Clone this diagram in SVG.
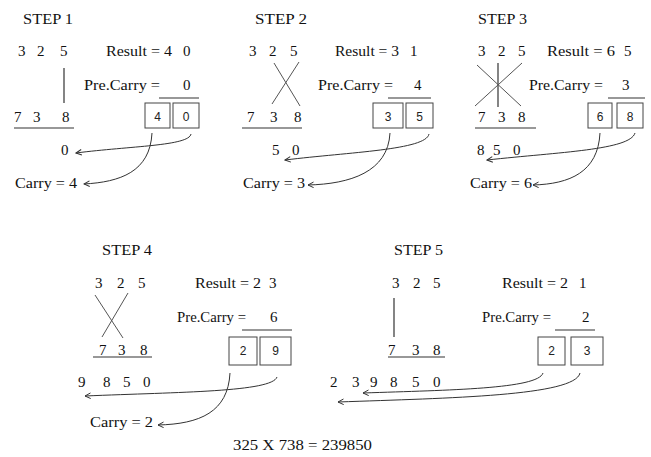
<svg xmlns="http://www.w3.org/2000/svg" width="651" height="457" viewBox="0 0 651 457">
<style>
.t{font-family:"Liberation Serif","Times New Roman",serif;font-size:15px;fill:#111}
.b{font-family:"Liberation Sans",Arial,sans-serif;font-size:12px;fill:#222;text-anchor:middle}
.box{fill:#fff;stroke:#444;stroke-width:1}
.ul{stroke:#333;stroke-width:1.2}
.cr{stroke:#555;stroke-width:1}
.arr{fill:none;stroke:#333;stroke-width:1;marker-end:url(#ah)}
</style>
<defs>
<marker id="ah" viewBox="0 0 10 10" refX="9" refY="5" markerWidth="7" markerHeight="7" orient="auto" markerUnits="userSpaceOnUse">
<path d="M1,1 L9,5 L1,9" fill="none" stroke="#333" stroke-width="1.4"/>
</marker>
</defs>
<rect width="651" height="457" fill="#fff"/>

<g id="step1">
<text class="t" x="23" y="24" textLength="50" lengthAdjust="spacingAndGlyphs">STEP 1</text>
<text class="t" x="18 28 37 49 60" y="56">3 2 5</text>
<text class="t" y="56"><tspan x="106" textLength="66" lengthAdjust="spacingAndGlyphs">Result = 4</tspan> <tspan x="183">0</tspan></text>
<line class="ul" x1="64" y1="68" x2="64" y2="103"/>
<text class="t" y="90"><tspan x="84" textLength="76" lengthAdjust="spacingAndGlyphs">Pre.Carry =</tspan> <tspan x="183">0</tspan></text>
<line class="ul" x1="159" y1="98" x2="199" y2="98"/>
<rect class="box" x="145" y="103" width="25" height="25"/>
<rect class="box" x="173" y="103" width="26" height="25"/>
<text class="b" x="157.5" y="121">4</text>
<text class="b" x="186" y="121">0</text>
<text class="t" x="14 24 33 48 62" y="122">7 3 8</text>
<line class="ul" x1="14" y1="128" x2="74" y2="128"/>
<text class="t" x="61" y="155">0</text>
<text class="t" x="15" y="188" textLength="62" lengthAdjust="spacingAndGlyphs">Carry = 4</text>
</g>

<g id="step2">
<text class="t" x="255" y="24" textLength="52" lengthAdjust="spacingAndGlyphs">STEP 2</text>
<text class="t" x="249 259 269 280 290" y="56">3 2 5</text>
<text class="t" y="56"><tspan x="335" textLength="64" lengthAdjust="spacingAndGlyphs">Result = 3</tspan> <tspan x="410">1</tspan></text>
<line class="cr" x1="274" y1="63" x2="300" y2="106"/>
<line class="cr" x1="299" y1="62" x2="272" y2="104"/>
<text class="t" y="90"><tspan x="318" textLength="75" lengthAdjust="spacingAndGlyphs">Pre.Carry =</tspan> <tspan x="414">4</tspan></text>
<line class="ul" x1="388" y1="98" x2="431" y2="98"/>
<rect class="box" x="373" y="103" width="30" height="25"/>
<rect class="box" x="406" y="103" width="27" height="25"/>
<text class="b" x="388" y="121">3</text>
<text class="b" x="419.5" y="121">5</text>
<text class="t" x="247 258 270 282 294" y="122">7 3 8</text>
<line class="ul" x1="242" y1="128" x2="302" y2="128"/>
<text class="t" x="272 282 292" y="155">5 0</text>
<text class="t" x="243" y="188" textLength="62" lengthAdjust="spacingAndGlyphs">Carry = 3</text>
</g>

<g id="step3">
<text class="t" x="478" y="24" textLength="49" lengthAdjust="spacingAndGlyphs">STEP 3</text>
<text class="t" x="478 488 498 508 518" y="56">3 2 5</text>
<text class="t" y="56"><tspan x="547" textLength="68" lengthAdjust="spacingAndGlyphs">Result = 6</tspan> <tspan x="624">5</tspan></text>
<line class="ul" x1="498" y1="63" x2="498" y2="107"/>
<line class="cr" x1="477" y1="65" x2="521" y2="106"/>
<line class="cr" x1="522" y1="63" x2="475" y2="106"/>
<text class="t" y="90"><tspan x="529" textLength="74" lengthAdjust="spacingAndGlyphs">Pre.Carry =</tspan> <tspan x="622">3</tspan></text>
<line class="ul" x1="608" y1="98" x2="645" y2="98"/>
<rect class="box" x="588" y="103" width="24" height="25"/>
<rect class="box" x="617" y="103" width="26" height="25"/>
<text class="b" x="600" y="121">6</text>
<text class="b" x="630" y="121">8</text>
<text class="t" x="478 488 498 508 518" y="122">7 3 8</text>
<line class="ul" x1="475" y1="128" x2="536" y2="128"/>
<text class="t" x="477 485 493 503 513" y="155">8 5 0</text>
<text class="t" x="470" y="188" textLength="62" lengthAdjust="spacingAndGlyphs">Carry = 6</text>
</g>

<g id="step4">
<text class="t" x="102" y="255" textLength="50" lengthAdjust="spacingAndGlyphs">STEP 4</text>
<text class="t" x="95 106 117 127 138" y="288">3 2 5</text>
<text class="t" y="288"><tspan x="195" textLength="66" lengthAdjust="spacingAndGlyphs">Result = 2</tspan> <tspan x="269">3</tspan></text>
<line class="cr" x1="95" y1="295" x2="123" y2="338"/>
<line class="cr" x1="128" y1="293" x2="102" y2="337"/>
<text class="t" y="322"><tspan x="177" textLength="69" lengthAdjust="spacingAndGlyphs">Pre.Carry =</tspan> <tspan x="270">6</tspan></text>
<line class="ul" x1="242" y1="330" x2="292" y2="330"/>
<rect class="box" x="229" y="337" width="28" height="28"/>
<rect class="box" x="260" y="337" width="31" height="28"/>
<text class="b" x="243" y="355">2</text>
<text class="b" x="275.5" y="355">9</text>
<text class="t" x="99 108 118 129 140" y="355">7 3 8</text>
<line class="ul" x1="93" y1="357" x2="152" y2="357"/>
<text class="t" x="78 90 103 113 123 133 143" y="387">9 8 5 0</text>
<text class="t" x="90" y="427" textLength="63" lengthAdjust="spacingAndGlyphs">Carry = 2</text>
</g>

<g id="step5">
<text class="t" x="394" y="255" textLength="49" lengthAdjust="spacingAndGlyphs">STEP 5</text>
<text class="t" x="392 402 413 423 433" y="288">3 2 5</text>
<text class="t" y="288"><tspan x="502" textLength="66" lengthAdjust="spacingAndGlyphs">Result = 2</tspan> <tspan x="579">1</tspan></text>
<line class="ul" x1="394" y1="298" x2="394" y2="337"/>
<text class="t" y="322"><tspan x="482" textLength="69" lengthAdjust="spacingAndGlyphs">Pre.Carry =</tspan> <tspan x="582">2</tspan></text>
<line class="ul" x1="555" y1="330" x2="595" y2="330"/>
<rect class="box" x="538" y="337" width="27" height="28"/>
<rect class="box" x="571" y="337" width="32" height="28"/>
<text class="b" x="551.5" y="355">2</text>
<text class="b" x="587" y="355">3</text>
<text class="t" x="388 400 412 422 433" y="355">7 3 8</text>
<line class="ul" x1="388" y1="357" x2="445" y2="357"/>
<text class="t" x="330 341 352 361 370 380 390 401 412 422 433" y="387">2 3 9 8 5 0</text>
</g>

<g id="connectors">
<path class="arr" d="M191,134 C189,146 130,146 76,153"/>
<path class="arr" d="M152,133 C150,172 120,182 84,184"/>
<path class="arr" d="M429,134 C426,150 350,152 285,160"/>
<path class="arr" d="M390,133 C388,172 350,184 308,185"/>
<path class="arr" d="M635,133 C630,150 560,152 487,160"/>
<path class="arr" d="M600,133 C598,172 570,184 533,185"/>
<path class="arr" d="M277,377 C272,392 180,392 85,396"/>
<path class="arr" d="M230,373 C228,412 200,424 158,425"/>
<path class="arr" d="M543,373 C538,389 450,390 363,393"/>
<path class="arr" d="M580,373 C575,396 450,398 338,402"/>
</g>

<text id="summary" class="t" x="233" y="450" textLength="139" lengthAdjust="spacingAndGlyphs">325 X 738 = 239850</text>
</svg>
